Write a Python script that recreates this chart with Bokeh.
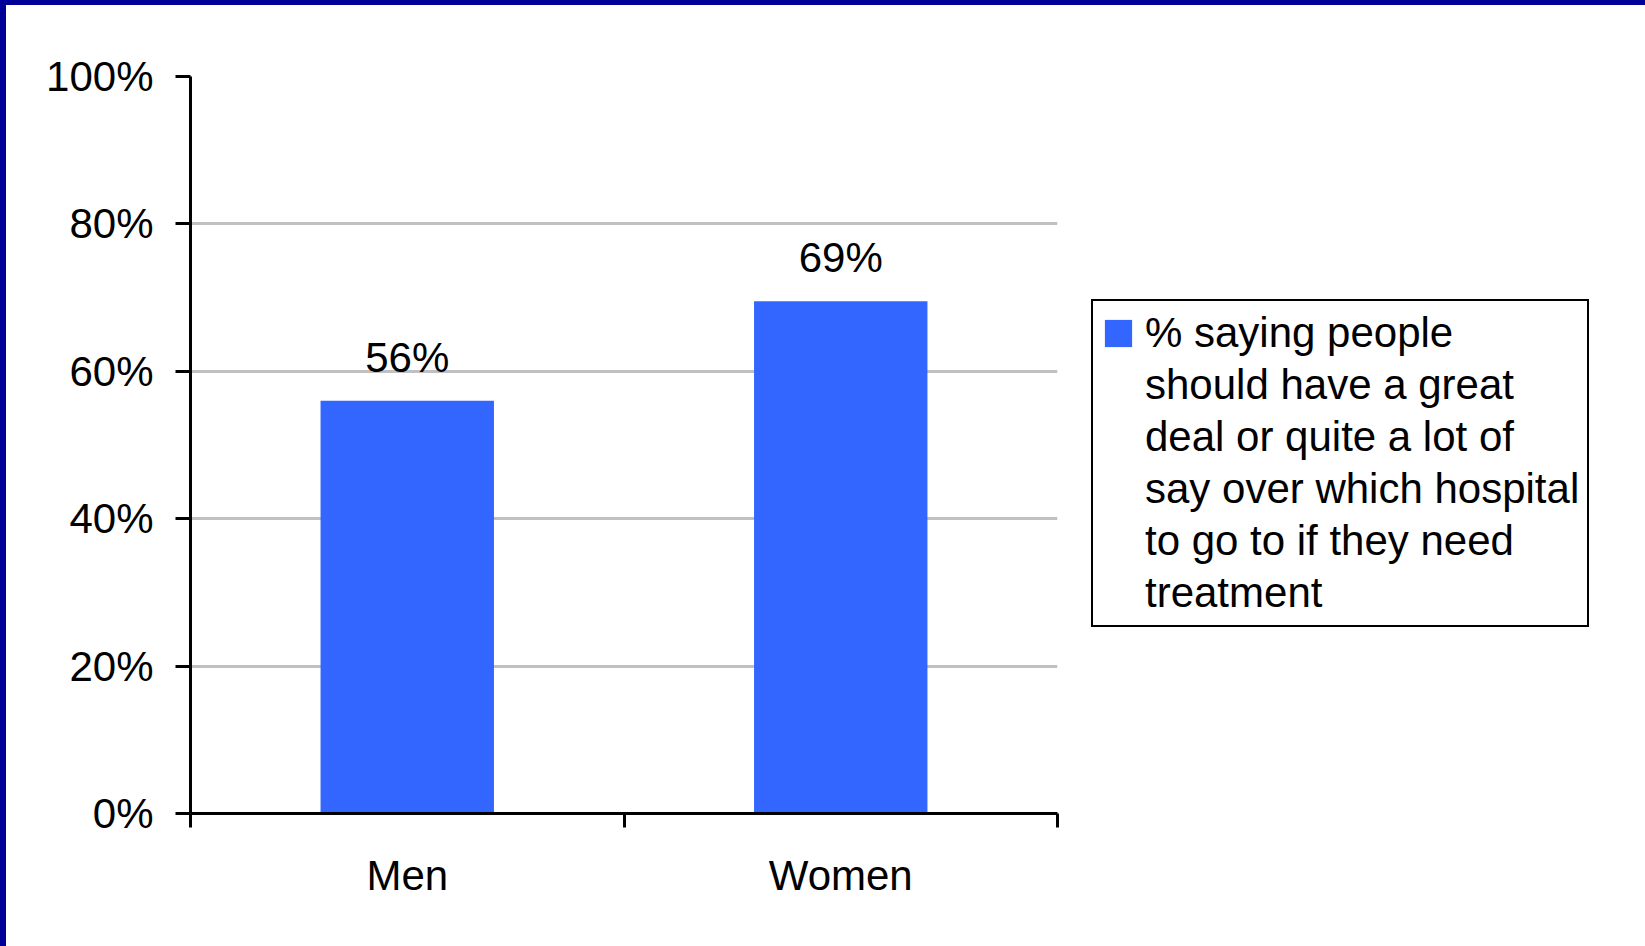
from bokeh.plotting import figure
from bokeh.models import (ColumnDataSource, FixedTicker, NumeralTickFormatter, Range1d,
                          LabelSet, Legend, LegendItem, GlobalInlineStyleSheet)
from bokeh.core.properties import value
from bokeh.embed import file_html
from bokeh.resources import INLINE
import numpy as np

categories = ["Men", "Women"]
values = [0.56, 0.695]
value_labels = ["56%", "69%"]
series_lines = ["% saying people", "should have a great", "deal or quite a lot of",
                "say over which hospital", "to go to if they need", "treatment"]
y_ticks = [0, 0.2, 0.4, 0.6, 0.8, 1.0]

FONT = "Liberation Sans"
BAR = "#3366FF"

x = (np.arange(len(categories)) + 0.5).tolist()
src = ColumnDataSource(dict(x=x, top=values, cat=categories, lab=value_labels))

p = figure(frame_width=867, frame_height=737, output_backend="svg", toolbar_location=None,
           x_range=Range1d(0, len(categories)), y_range=Range1d(0, 1),
           min_border_left=184, min_border_right=588,
           min_border_top=71, min_border_bottom=133,
           background_fill_color="white", border_fill_color="white")
p.stylesheets = [GlobalInlineStyleSheet(css=(
    "html, body { margin: 0 !important; padding: 0 !important; overflow: hidden; } "
    "body { border-left: 6px solid #000099; border-top: 5px solid #000099; }"))]
p.outline_line_color = None

r = p.vbar(x="x", top="top", width=0.4, source=src, color=BAR, line_color=None)

labels = LabelSet(x="x", y="top", text="lab", source=src, text_align="center",
                  text_baseline="alphabetic", y_offset=29,
                  text_font=value(FONT), text_font_size=value("42px"), text_color="black")
p.add_layout(labels)

ya = p.yaxis[0]
ya.ticker = FixedTicker(ticks=y_ticks)
ya.formatter = NumeralTickFormatter(format="0%")
ya.major_label_text_font = FONT
ya.major_label_text_font_size = "42px"
ya.major_label_text_color = "black"
ya.axis_line_width = 3
ya.axis_line_color = "black"
ya.major_tick_line_width = 3
ya.major_tick_line_color = "black"
ya.major_tick_in = 0
ya.major_tick_out = 15
ya.minor_tick_line_color = None
ya.major_label_standoff = 22

xa = p.xaxis[0]
xa.ticker = FixedTicker(ticks=x, minor_ticks=list(range(len(categories) + 1)))
xa.major_label_overrides = {v: c for v, c in zip(x, categories)}
xa.major_label_text_font = FONT
xa.major_label_text_font_size = "42px"
xa.major_label_text_color = "black"
xa.axis_line_width = 3
xa.axis_line_color = "black"
xa.major_tick_line_color = None
xa.major_tick_in = 0
xa.major_tick_out = 0
xa.minor_tick_line_width = 3
xa.minor_tick_line_color = "black"
xa.minor_tick_in = 0
xa.minor_tick_out = 14
xa.major_label_standoff = 24

p.xgrid.grid_line_color = None
p.ygrid.ticker = FixedTicker(ticks=y_ticks[1:])
p.ygrid.grid_line_color = "#c0c0c0"
p.ygrid.grid_line_width = 3

items = [LegendItem(label=series_lines[0], renderers=[r])]
items += [LegendItem(label=s, renderers=[]) for s in series_lines[1:]]
legend = Legend(items=items, location=(34, 186))
legend.label_text_font = FONT
legend.label_text_font_size = "42px"
legend.label_text_color = "black"
legend.glyph_width = 34
legend.glyph_height = 34
legend.label_standoff = 10
legend.spacing = 4
legend.padding = 8
legend.margin = 0
legend.border_line_color = "black"
legend.border_line_alpha = 1
legend.border_line_width = 2.5
legend.background_fill_color = "white"
legend.background_fill_alpha = 1
p.add_layout(legend, "right")

open("out.html", "w").write(file_html(p, INLINE))
